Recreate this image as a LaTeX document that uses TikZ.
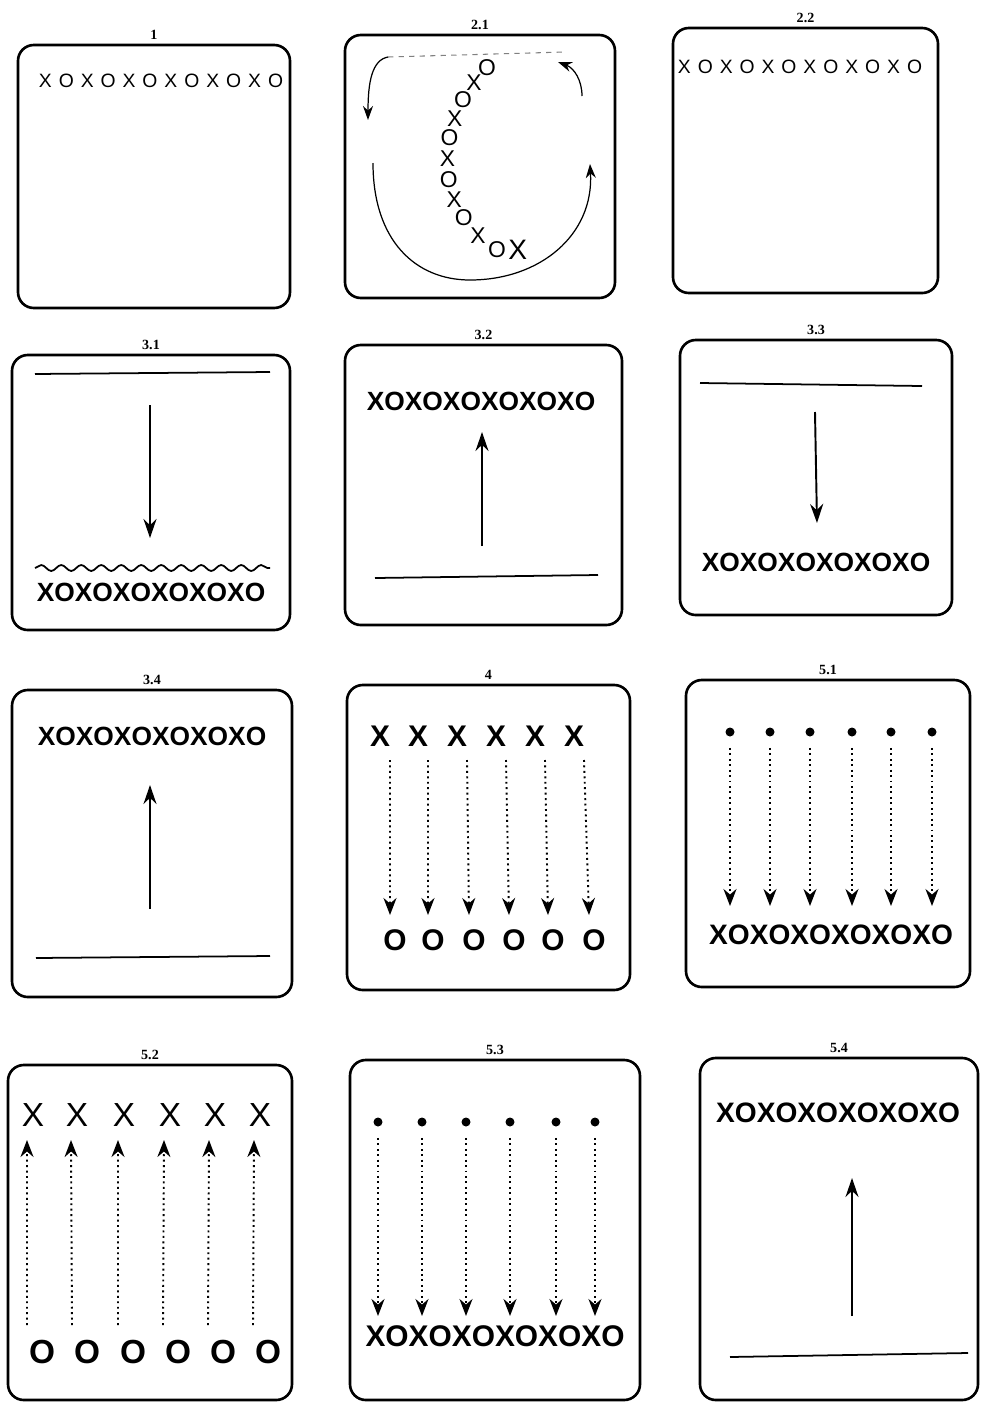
\documentclass[tikz,border=0pt]{standalone}
\usepackage{fontspec}
\setmainfont{Liberation Sans}
\newfontfamily\titlefont{Liberation Serif}
\newfontfamily\spacedfont[LetterSpace=36]{Liberation Sans}
\usetikzlibrary{
    arrows.meta,
    positioning,
    fit,
    decorations.pathmorphing
}
\tikzset{
    % Panels
    panel/.style={
        draw=black,
        line width=1.5pt,
        rounded corners=9pt,
        inner sep=0pt
    },
    paneltitle/.style={
        font=\titlefont\bfseries\footnotesize,
        inner sep=1pt
    },
    % Texts
    xoxo/.style={
        font=\bfseries\fontsize{15}{15}\selectfont,
        inner sep=0pt
    },
    smallxoxo/.style={
        font=\spacedfont\fontsize{11}{11}\selectfont,
        inner sep=0pt
    },
    letter/.style={
        font=\bfseries\fontsize{17}{17}\selectfont,
        inner sep=0pt
    },
    bigletter/.style={
        font=\fontsize{19}{19}\selectfont,
        inner sep=0pt
    },
    chainletter/.style={
        font=\fontsize{13}{13}\selectfont,
        inner sep=0pt
    },
    dotnode/.style={
        circle,
        fill=black,
        inner sep=0pt,
        minimum size=0.18cm
    },
    % Lines and arrows
    arrow/.style={
        -{Stealth[length=0.38cm,width=0.26cm]},
        line width=1.1pt
    },
    thinarrow/.style={
        -{Stealth[length=0.28cm,width=0.2cm]},
        line width=0.7pt
    },
    dottedarrow/.style={
        -{Stealth[length=0.34cm,width=0.26cm]},
        line width=1.1pt,
        dotted
    },
    baseline/.style={
        line width=1pt
    },
    faintline/.style={
        line width=0.6pt,
        draw=gray,
        dashed
    },
    wave/.style={
        decorate,
        decoration={snake, segment length=0.4cm, amplitude=0.06cm},
        line width=1pt
    }
}
\begin{document}
\begin{tikzpicture}[x=0.02cm, y=-0.02cm]
    \useasboundingbox (0,0) rectangle (985,1417);

    % Panel 1
    \node[panel, fit={(18,45) (290,308)}] (p1) {};
    \node[paneltitle, above=1pt of p1] (t1) {1};
    \node[smallxoxo] (x1) at (161,81) {XOXOXOXOXOXO};

    % Panel 2.1
    \node[panel, fit={(345,35) (615,298)}] (p21) {};
    \node[paneltitle, above=1pt of p21] (t21) {2.1};
    \coordinate (c21a) at (388,57);
    \coordinate (c21b) at (565,52);
    \coordinate (c21c) at (368,120);
    \coordinate (c21d) at (582,96);
    \coordinate (c21e) at (558,62);
    \coordinate (c21f) at (373,163);
    \coordinate (c21g) at (470,280);
    \coordinate (c21h) at (590,164);
    \draw[faintline] (c21a) -- (c21b);
    \draw[thinarrow] (c21a) .. controls (372,60) and (368,82) .. (c21c);
    \draw[thinarrow] (c21d) .. controls (582,80) and (574,68) .. (c21e);
    \draw[thinarrow] (c21f) .. controls (373,240) and (415,280) .. (c21g)
        .. controls (540,280) and (594,235) .. (c21h);
    \path (487,68) .. controls (440,112) and (425,205) .. (497,250)
        foreach \p/\l [count=\i] in {0/O,0.1/X,0.2/O,0.3/X,0.4/O,0.5/X,0.6/O,0.7/X,0.8/O,0.9/X,1/O} {
            node[chainletter, pos=\p] (ch\i) {\l}
        };
    \node[chainletter, font=\fontsize{16}{16}\selectfont, right=1pt of ch11] (ch12) {X};

    % Panel 2.2
    \node[panel, fit={(673,28) (938,293)}] (p22) {};
    \node[paneltitle, above=1pt of p22] (t22) {2.2};
    \node[smallxoxo] (x22) at (800,67) {XOXOXOXOXOXO};

    % Panel 3.1
    \node[panel, fit={(12,355) (290,630)}] (p31) {};
    \node[paneltitle, above=1pt of p31] (t31) {3.1};
    \coordinate (l31a) at (35,374);
    \coordinate (l31b) at (270,372);
    \coordinate (a31s) at (150,405);
    \coordinate (a31e) at (150,538);
    \coordinate (w31a) at (35,568);
    \coordinate (w31b) at (270,568);
    \draw[baseline] (l31a) -- (l31b);
    \draw[arrow] (a31s) -- (a31e);
    \draw[wave] (w31a) -- (w31b);
    \node[xoxo] (x31) at (151,592) {XOXOXOXOXOXO};

    % Panel 3.2
    \node[panel, fit={(345,345) (622,625)}] (p32) {};
    \node[paneltitle, above=1pt of p32] (t32) {3.2};
    \node[xoxo] (x32) at (481,401) {XOXOXOXOXOXO};
    \coordinate (a32s) at (482,546);
    \coordinate (a32e) at (482,432);
    \coordinate (l32a) at (375,578);
    \coordinate (l32b) at (598,575);
    \draw[arrow] (a32s) -- (a32e);
    \draw[baseline] (l32a) -- (l32b);

    % Panel 3.3
    \node[panel, fit={(680,340) (952,615)}] (p33) {};
    \node[paneltitle, above=1pt of p33] (t33) {3.3};
    \coordinate (l33a) at (700,383);
    \coordinate (l33b) at (922,386);
    \coordinate (a33s) at (815,412);
    \coordinate (a33e) at (817,523);
    \draw[baseline] (l33a) -- (l33b);
    \draw[arrow] (a33s) -- (a33e);
    \node[xoxo] (x33) at (816,562) {XOXOXOXOXOXO};

    % Panel 3.4
    \node[panel, fit={(12,690) (292,997)}] (p34) {};
    \node[paneltitle, above=1pt of p34] (t34) {3.4};
    \node[xoxo] (x34) at (152,736) {XOXOXOXOXOXO};
    \coordinate (a34s) at (150,909);
    \coordinate (a34e) at (150,785);
    \coordinate (l34a) at (36,958);
    \coordinate (l34b) at (270,956);
    \draw[arrow] (a34s) -- (a34e);
    \draw[baseline] (l34a) -- (l34b);

    % Panel 4
    \node[panel, fit={(347,685) (630,990)}] (p4) {};
    \node[paneltitle, above=1pt of p4] (t4) {4};
    \foreach \xa/\xb [count=\i] in {380/395,418/433,457/474,496/514,535/553,574/594} {
        \node[letter] (x4-\i) at (\xa,736) {X};
        \node[letter] (o4-\i) at (\xb,940) {O};
        \draw[dottedarrow] ([xshift=0.2cm, yshift=-0.48cm]x4-\i.center)
            -- ([xshift=-0.1cm, yshift=0.5cm]o4-\i.center);
    }

    % Panel 5.1
    \node[panel, fit={(686,680) (970,987)}] (p51) {};
    \node[paneltitle, above=1pt of p51] (t51) {5.1};
    \coordinate (e51) at (0,906);
    \foreach \xa [count=\i] in {730,770,810,852,891,932} {
        \node[dotnode] (d51-\i) at (\xa,732) {};
        \draw[dottedarrow, shorten <=0.22cm] (d51-\i) -- (d51-\i |- e51);
    }
    \node[xoxo, font=\bfseries\fontsize{16}{16}\selectfont] (x51) at (831,935) {XOXOXOXOXOXO};

    % Panel 5.2
    \node[panel, fit={(8,1065) (292,1400)}] (p52) {};
    \node[paneltitle, above=1pt of p52] (t52) {5.2};
    \foreach \xa/\xb [count=\i] in {33/42,77/87,124/133,170/178,215/223,260/268} {
        \node[bigletter] (x52-\i) at (\xa,1115) {X};
        \node[bigletter, font=\bfseries\fontsize{19}{19}\selectfont] (o52-\i) at (\xb,1352) {O};
        \draw[dottedarrow] ([xshift=-0.3cm, yshift=0.54cm]o52-\i.center)
            -- ([xshift=-0.12cm, yshift=-0.5cm]x52-\i.center);
    }

    % Panel 5.3
    \node[panel, fit={(350,1060) (640,1400)}] (p53) {};
    \node[paneltitle, above=1pt of p53] (t53) {5.3};
    \coordinate (e53) at (0,1316);
    \foreach \xa [count=\i] in {378,422,466,510,556,595} {
        \node[dotnode] (d53-\i) at (\xa,1122) {};
        \draw[dottedarrow, shorten <=0.22cm] (d53-\i) -- (d53-\i |- e53);
    }
    \node[xoxo, font=\bfseries\fontsize{17}{17}\selectfont] (x53) at (495,1336) {XOXOXOXOXOXO};

    % Panel 5.4
    \node[panel, fit={(700,1058) (978,1400)}] (p54) {};
    \node[paneltitle, above=1pt of p54] (t54) {5.4};
    \node[xoxo, font=\bfseries\fontsize{16}{16}\selectfont] (x54) at (838,1113) {XOXOXOXOXOXO};
    \coordinate (a54s) at (852,1316);
    \coordinate (a54e) at (852,1178);
    \coordinate (l54a) at (730,1357);
    \coordinate (l54b) at (968,1353);
    \draw[arrow] (a54s) -- (a54e);
    \draw[baseline] (l54a) -- (l54b);

\end{tikzpicture}
\end{document}
